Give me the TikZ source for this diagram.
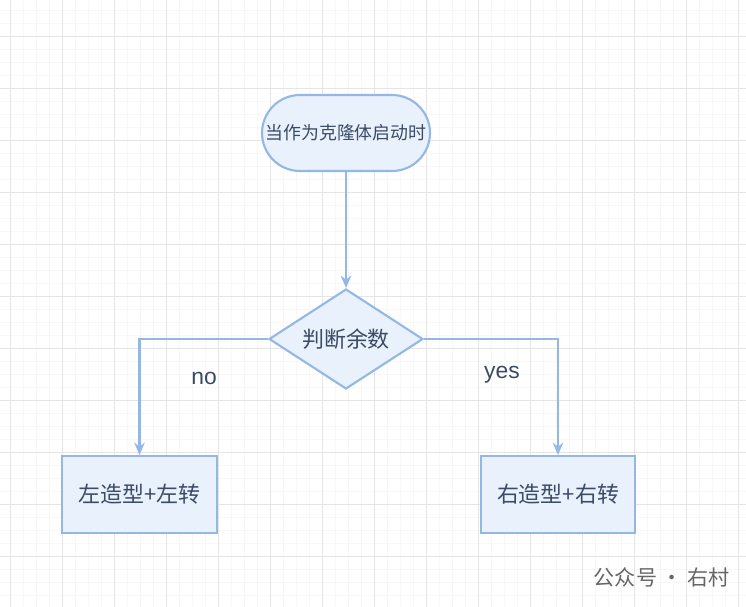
\documentclass[tikz,border=0pt]{standalone}
\usepackage{fontspec}
\setmainfont{Liberation Sans}
\newfontfamily\cjk{Noto Sans CJK SC}
\usetikzlibrary{shapes.geometric,shapes.misc,arrows.meta}
\definecolor{boxline}{HTML}{94B8E6}
\definecolor{boxfill}{HTML}{E8F1FC}
\definecolor{txt}{HTML}{3B4A66}
\tikzset{
  box/.style={draw=boxline, fill=boxfill, line width=1.2pt, text=txt, font=\cjk\fontsize{12.5}{15}\selectfont},
  flow/.style={draw=boxline, line width=1.2pt, -{Stealth[length=7pt,width=6pt]}}
}
\begin{document}
\begin{tikzpicture}[x=0.02cm,y=-0.02cm]
        % Background and grid
        \fill[white] (0,0) rectangle (746,607);
        \useasboundingbox (0,0) rectangle (746,607);
        \foreach \x in {-3,10,...,746} \draw[black!3, line width=0.4pt] (\x,0) -- (\x,607);
        \foreach \y in {10,23,...,607} \draw[black!3, line width=0.4pt] (0,\y) -- (746,\y);
        \foreach \x in {10,62,...,746} \draw[black!10, line width=0.5pt] (\x,0) -- (\x,607);
        \foreach \y in {36,88,...,607} \draw[black!10, line width=0.5pt] (0,\y) -- (746,\y);

        % Shapes
        \node[box, rounded rectangle, inner sep=0pt, minimum width=168*0.02cm, minimum height=76*0.02cm] (start) at (346,133) {};
        \node[text=txt, font=\cjk\fontsize{10.2}{12}\selectfont] (starttext) at (start) {当作为克隆体启动时};
        \node[box, diamond, aspect=1.54, inner sep=0pt, minimum width=154*0.02cm, minimum height=100*0.02cm] (check) at (346,339) {判断余数};
        \node[box, minimum width=155*0.02cm, minimum height=77*0.02cm] (left) at (139.5,494.5) {左造型+左转};
        \node[box, minimum width=154*0.02cm, minimum height=77*0.02cm] (right) at (558,494.5) {右造型+右转};

        % Connectors
        \draw[flow] (start) -- (check);
        \draw[flow] (check.west) -| (left.north);
        \draw[flow] (check.east) -| (right.north);

        % Labels
        \node[text=txt, font=\fontsize{13}{15}\selectfont] (no) at (204,378) {no};
        \node[text=txt, font=\fontsize{13}{15}\selectfont] (yes) at (502,375) {yes};
        \node[text=black!60, font=\cjk\fontsize{12}{14}\selectfont, anchor=east] (mark) at (736,577) {公众号 · 右村};
\end{tikzpicture}
\end{document}
